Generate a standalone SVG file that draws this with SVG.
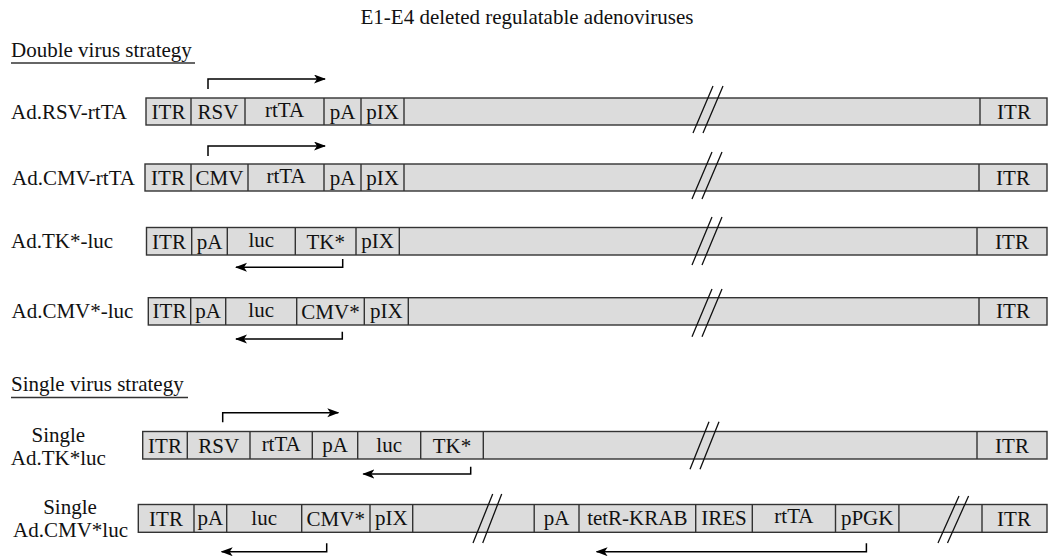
<svg xmlns="http://www.w3.org/2000/svg" width="1050" height="558" viewBox="0 0 1050 558">
<style>
text{font-family:"Liberation Serif","Times New Roman",serif;font-size:21px;fill:#111}
.c{text-anchor:middle}
.bar{fill:#dcdcdc;stroke:#333;stroke-width:1.4}
.dv{stroke:#333;stroke-width:1.4}
.brk{stroke:#111;stroke-width:1.3;fill:none}
.arr{stroke:#000;stroke-width:1.5;fill:none;marker-end:url(#ah)}
.ul{stroke:#333;stroke-width:1.3}
</style>
<defs>
<marker id="ah" markerUnits="userSpaceOnUse" markerWidth="12" markerHeight="10" refX="11" refY="4.5" orient="auto">
<path d="M0,0 L12,4.5 L0,9 L3,4.5 Z" fill="#000"/>
</marker>
</defs>
<rect width="1050" height="558" fill="#fff"/>

<g id="title">
<text class="c" x="527" y="24">E1-E4 deleted regulatable adenoviruses</text>
</g>

<g id="double-heading">
<text x="11" y="57">Double virus strategy</text>
<line class="ul" x1="11" y1="63" x2="195" y2="63"/>
</g>

<g id="ad-rsv-rttA">
<text x="11" y="119">Ad.RSV-rtTA</text>
<rect class="bar" x="146" y="98" width="901" height="27"/>
<path class="dv" d="M191,98V125M245,98V125M324,98V125M361,98V125M404,98V125M980,98V125"/>
<text class="c" x="168.5" y="119">ITR</text>
<text class="c" x="218" y="119">RSV</text>
<text class="c" x="284.5" y="117">rtTA</text>
<text class="c" x="342.5" y="119">pA</text>
<text class="c" x="382.5" y="119">pIX</text>
<text class="c" x="1014" y="119">ITR</text>
<path class="brk" d="M693,133L713,86M703,133L723,86"/>
</g>

<g id="ad-cmv-rtta">
<text x="12" y="185">Ad.CMV-rtTA</text>
<rect class="bar" x="145" y="164" width="902" height="27"/>
<path class="dv" d="M191,164V191M248,164V191M324,164V191M361,164V191M404,164V191M979,164V191"/>
<text class="c" x="168" y="185">ITR</text>
<text class="c" x="219.5" y="185">CMV</text>
<text class="c" x="286" y="183">rtTA</text>
<text class="c" x="342.5" y="185">pA</text>
<text class="c" x="382.5" y="185">pIX</text>
<text class="c" x="1013" y="185">ITR</text>
<path class="brk" d="M692,199L712,152M702,199L722,152"/>
</g>

<g id="ad-tk-luc">
<text x="11" y="248">Ad.TK*-luc</text>
<rect class="bar" x="146.5" y="227.5" width="900.5" height="27.5"/>
<path class="dv" d="M191.7,227.5V255M227.3,227.5V255M295.3,227.5V255M356,227.5V255M399.3,227.5V255M977,227.5V255"/>
<text class="c" x="169" y="248.5">ITR</text>
<text class="c" x="209.5" y="248.5">pA</text>
<text class="c" x="261.3" y="247">luc</text>
<text class="c" x="325.7" y="249">TK*</text>
<text class="c" x="377.7" y="248">pIX</text>
<text class="c" x="1012" y="248.5">ITR</text>
<path class="brk" d="M692,265L712,217M702,265L722,217"/>
</g>

<g id="ad-cmv-luc">
<text x="11.5" y="318">Ad.CMV*-luc</text>
<rect class="bar" x="148.3" y="297.7" width="898.7" height="27.3"/>
<path class="dv" d="M190.7,297.7V325M225.7,297.7V325M296.7,297.7V325M364.3,297.7V325M408.3,297.7V325M979,297.7V325"/>
<text class="c" x="169.5" y="318">ITR</text>
<text class="c" x="208.2" y="318">pA</text>
<text class="c" x="261.2" y="317">luc</text>
<text class="c" x="330.5" y="319">CMV*</text>
<text class="c" x="386.3" y="318">pIX</text>
<text class="c" x="1013" y="318">ITR</text>
<path class="brk" d="M692,336.7L712,289M702,336.7L722,289"/>
</g>

<g id="single-heading">
<text x="11" y="391">Single virus strategy</text>
<line class="ul" x1="11" y1="397.5" x2="188" y2="397.5"/>
</g>

<g id="single-ad-tk-luc">
<text class="c" x="58.3" y="442">Single</text>
<text class="c" x="58.3" y="465">Ad.TK*luc</text>
<rect class="bar" x="142.7" y="431.5" width="904.3" height="27.5"/>
<path class="dv" d="M187.3,431.5V459M250,431.5V459M312.3,431.5V459M357.7,431.5V459M420.7,431.5V459M483.3,431.5V459M977,431.5V459"/>
<text class="c" x="165" y="453">ITR</text>
<text class="c" x="218.7" y="453">RSV</text>
<text class="c" x="281.2" y="451">rtTA</text>
<text class="c" x="335" y="452">pA</text>
<text class="c" x="389.2" y="452">luc</text>
<text class="c" x="452" y="453">TK*</text>
<text class="c" x="1012" y="453">ITR</text>
<path class="brk" d="M690,469.3L709,421.7M700,469.3L719,421.7"/>
</g>

<g id="single-ad-cmv-luc">
<text class="c" x="70" y="514">Single</text>
<text class="c" x="70.5" y="537">Ad.CMV*luc</text>
<rect class="bar" x="138.3" y="504.5" width="908.7" height="27.8"/>
<path class="dv" d="M194,504.5V532.3M226.7,504.5V532.3M301.7,504.5V532.3M370,504.5V532.3M412.7,504.5V532.3M534.2,504.5V532.3M579,504.5V532.3M695.7,504.5V532.3M752.3,504.5V532.3M835.5,504.5V532.3M898.9,504.5V532.3M982,504.5V532.3"/>
<text class="c" x="166" y="526">ITR</text>
<text class="c" x="210.3" y="525">pA</text>
<text class="c" x="264.2" y="525">luc</text>
<text class="c" x="335.8" y="526">CMV*</text>
<text class="c" x="391.3" y="525">pIX</text>
<text class="c" x="556.6" y="525">pA</text>
<text class="c" x="637.3" y="525">tetR-KRAB</text>
<text class="c" x="724" y="525">IRES</text>
<text class="c" x="793.9" y="523">rtTA</text>
<text class="c" x="867.2" y="525">pPGK</text>
<text class="c" x="1014" y="526">ITR</text>
<path class="brk" d="M473,543L492.7,494M482.7,543L501.7,494M938,543L959,496M947.5,543L968.6,496"/>
</g>

<g id="connectors">
<path class="arr" d="M208,89V79H325"/>
<path class="arr" d="M208,156V146H325"/>
<path class="arr" d="M342.7,259V267.3H236"/>
<path class="arr" d="M342.3,331.7V339H236"/>
<path class="arr" d="M222.7,422.3V412.7H338.3"/>
<path class="arr" d="M470.7,466.7V474H363.3"/>
<path class="arr" d="M326.7,543.3V551.7H221.7"/>
<path class="arr" d="M866.4,543.3V551.7H596.6"/>
</g>
</svg>
